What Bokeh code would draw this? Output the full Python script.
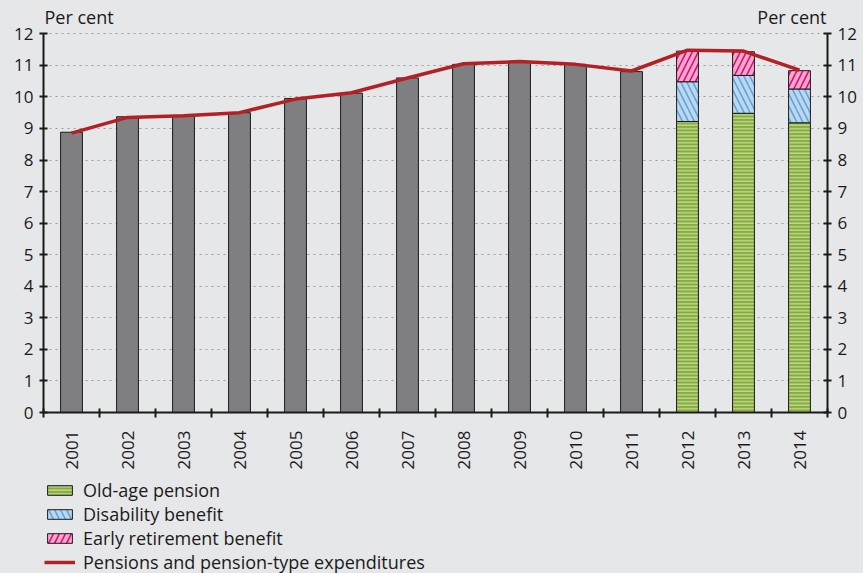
import math
from bokeh.plotting import figure
from bokeh.layouts import column
from bokeh.models import (ColumnDataSource, FixedTicker, Range1d, LinearAxis,
                          Legend, LegendItem)
from bokeh.core.properties import value
from bokeh.embed import file_html
from bokeh.resources import INLINE

years = ["2001", "2002", "2003", "2004", "2005", "2006", "2007",
         "2008", "2009", "2010", "2011", "2012", "2013", "2014"]
total_bars = [8.88, 9.37, 9.40, 9.50, 9.95, 10.12, 10.60, 11.03, 11.12, 11.03, 10.80]
stack_years = ["2012", "2013", "2014"]
old_age = [9.22, 9.48, 9.18]
disability = [1.26, 1.20, 1.07]
early_ret = [0.97, 0.75, 0.58]
line_vals = [8.85, 9.35, 9.40, 9.50, 9.93, 10.13, 10.60, 11.05, 11.12, 11.03, 10.82, 11.48, 11.45, 10.85]
y_ticks = list(range(0, 13))
unit_label = "Per cent"
series_names = ["Old-age pension", "Disability benefit", "Early retirement benefit",
                "Pensions and pension-type expenditures"]

BG = "#e6e7e9"
FONT = "Open Sans"
INK = "#1a1a1a"
YMAX = 12
YTOP = 12.8
UNIT_PX = 379 / 12.0

STACK_FILL = ["#86ab3f", "#bcd6ee", "#f5a8c8"]
STACK_HATCH = ["#c9dd94", "#5ba3d9", "#e4007c"]
STACK_PAT = ["horizontal_line", "left_diagonal_line", "right_diagonal_line"]
STACK_SCALE = [3.5, 12, 12]
STACK_W = [1.3, 1.5, 1.5]
LINE_COLOR = "#b32025"

xpos = {y: i + 1 for i, y in enumerate(years)}

p = figure(frame_width=784, frame_height=int(round(UNIT_PX * YTOP)), output_backend="svg",
           toolbar_location=None,
           x_range=Range1d(0.5, 14.5), y_range=Range1d(0, YTOP),
           min_border_left=43, min_border_top=8, min_border_right=36, min_border_bottom=64)
p.background_fill_color = BG
p.border_fill_color = BG
p.outline_line_color = None

gray_src = ColumnDataSource(dict(x=[xpos[y] for y in years[:11]], top=total_bars))
p.vbar(x="x", top="top", width=0.39, source=gray_src, fill_color="#7f7f81",
       line_color=INK, line_width=1)

st_src = ColumnDataSource(dict(x=[xpos[y] for y in stack_years], old=old_age,
                               dis=disability, early=early_ret))

def add_stack(fig):
    return fig.vbar_stack(["old", "dis", "early"], x="x", width=0.39, source=st_src,
                          fill_color=STACK_FILL, hatch_color=STACK_HATCH, hatch_pattern=STACK_PAT,
                          hatch_scale=STACK_SCALE, hatch_weight=STACK_W,
                          line_color=INK, line_width=1)

add_stack(p)

line_src = ColumnDataSource(dict(x=[xpos[y] for y in years], y=line_vals))
p.line(x="x", y="y", source=line_src, line_color=LINE_COLOR, line_width=3.5)

# unit labels above the axes
p.text(x=[0.5], y=[YMAX], text=[unit_label], x_offset=1, y_offset=-5,
       text_font=value(FONT), text_font_size="18px", text_color=INK,
       text_align="left", text_baseline="bottom")
p.text(x=[14.5], y=[YMAX], text=[unit_label], x_offset=-1, y_offset=-5,
       text_font=value(FONT), text_font_size="18px", text_color=INK,
       text_align="right", text_baseline="bottom")

# grid
p.xgrid.grid_line_color = None
p.ygrid.ticker = FixedTicker(ticks=y_ticks)
p.ygrid.grid_line_color = "#9a9a9a"
p.ygrid.grid_line_dash = "2 4"
p.ygrid.grid_line_width = 1

def style_y(ax):
    ax.ticker = FixedTicker(ticks=y_ticks)
    ax.bounds = (0, YMAX)
    ax.axis_line_color = INK
    ax.axis_line_width = 2
    ax.major_tick_in = 4
    ax.major_tick_out = 4
    ax.major_tick_line_width = 2
    ax.major_tick_line_color = INK
    ax.minor_tick_line_color = None
    ax.major_label_text_font = FONT
    ax.major_label_text_font_size = "17px"
    ax.major_label_text_color = INK
    ax.major_label_standoff = 6

style_y(p.yaxis[0])
right = LinearAxis()
style_y(right)
p.add_layout(right, "right")

xa = p.xaxis[0]
xa.ticker = FixedTicker(ticks=[xpos[y] for y in years],
                        minor_ticks=[i + 0.5 for i in range(15)])
xa.major_label_overrides = {xpos[y]: y for y in years}
xa.major_tick_in = 0
xa.major_tick_out = 0
xa.minor_tick_in = 4
xa.minor_tick_out = 5
xa.minor_tick_line_width = 2
xa.minor_tick_line_color = INK
xa.axis_line_color = INK
xa.axis_line_width = 2
xa.major_label_orientation = math.pi / 2
xa.major_label_text_font = FONT
xa.major_label_text_font_size = "17px"
xa.major_label_text_color = INK
xa.major_label_standoff = 13

# legend panel: a separate figure whose ranges keep the data out of view
lg = figure(frame_width=847, frame_height=98, output_backend="svg", toolbar_location=None,
            x_range=Range1d(-100, -99), y_range=Range1d(-100, -99),
            min_border_left=0, min_border_right=0, min_border_top=0, min_border_bottom=0)
lg.axis.visible = False
lg.grid.visible = False
lg.background_fill_color = BG
lg.border_fill_color = BG
lg.outline_line_color = None

lg_stack = add_stack(lg)
lg_line = lg.line(x="x", y="y", source=line_src, line_color=LINE_COLOR, line_width=3.5)

legend = Legend(items=[
    LegendItem(label=series_names[0], renderers=[lg_stack[0]]),
    LegendItem(label=series_names[1], renderers=[lg_stack[1]]),
    LegendItem(label=series_names[2], renderers=[lg_stack[2]]),
    LegendItem(label=series_names[3], renderers=[lg_line]),
], location=(44, 0), orientation="vertical")
legend.background_fill_alpha = 0
legend.border_line_color = None
legend.label_text_font = FONT
legend.label_text_font_size = "18px"
legend.label_text_color = INK
legend.glyph_width = 31
legend.glyph_height = 12
legend.label_height = 20
legend.spacing = -2
legend.padding = 0
legend.margin = 0
legend.label_standoff = 8
lg.add_layout(legend, "center")

layout = column(p, lg, spacing=0)
layout.styles = {"background-color": BG}

html = file_html(layout, INLINE)
html = html.replace("<body>", '<body style="background:%s">' % BG)
open("out.html", "w").write(html)
